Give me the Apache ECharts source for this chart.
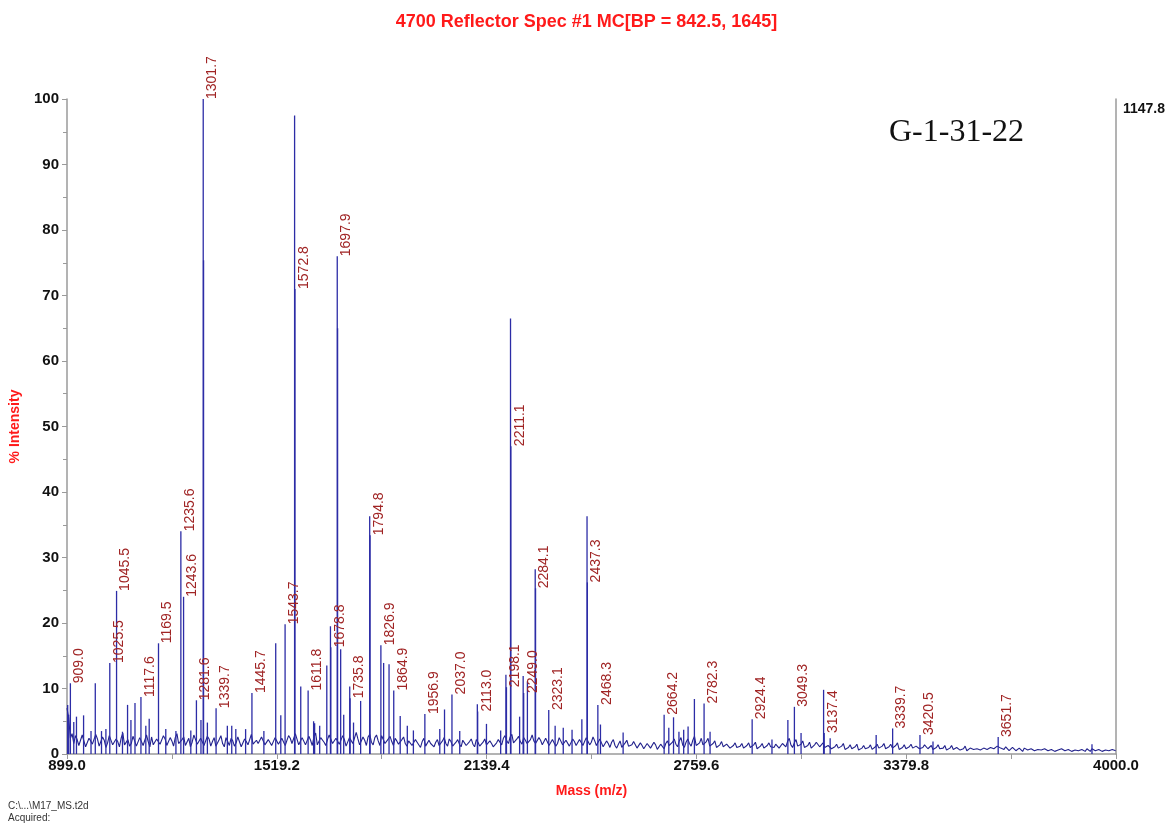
<!DOCTYPE html>
<html><head><meta charset="utf-8">
<script src="https://cdn.jsdelivr.net/npm/echarts@6/dist/echarts.min.js"></script>
<style>html,body{margin:0;padding:0;background:#fff}#c{width:1173px;height:825px}</style>
</head><body><div id="c"></div>
<script>
// ---- data ----
const peakMass = [901,904,909.0,919,927,948,970,982.6,1001,1014,1025.5,1045.5,1063,1078,1088,1100,1117.6,1132,1142,1169.5,1191,1221,1235.6,1243.6,1265,1281.6,1295,1301.7,1302.7,1314,1339.7,1373,1386,1398,1427,1445.7,1481,1516,1531,1543.7,1571.8,1572.8,1590,1611.8,1628,1631,1646,1667,1677.8,1678.8,1697.9,1698.9,1708,1717,1734.8,1735.8,1746,1767,1793.8,1794.8,1826.9,1835,1851,1864.9,1884,1905,1923,1956.9,2001,2015,2037.0,2060,2112,2113.0,2139,2181,2196.5,2198.1,2210.1,2211.1,2237,2247.5,2249.0,2260,2283.1,2284.1,2323.1,2342,2366,2392,2421,2436.3,2437.3,2468.3,2476,2543,2664.2,2678,2692,2708,2722,2735,2753.7,2782.3,2800,2924.4,2983,3030,3049.3,3069,3135.6,3137.4,3155,3291,3339.7,3420.5,3459,3651.7,3929];
const peakIntensity = [7.5,6.0,10.8,4.9,5.7,5.9,3.5,10.8,3.5,3.8,13.9,24.9,3.4,7.5,5.2,7.8,8.7,4.3,5.4,16.9,3.8,3.5,34.0,24.0,3.6,8.2,5.2,100,75.4,4.8,7.0,4.3,4.3,3.8,3.8,9.3,3.5,16.9,5.9,19.8,97.5,71.0,10.3,9.7,5.0,4.7,4.3,13.5,19.5,16.3,76.0,65.0,16.0,6.0,10.3,8.5,4.8,8.1,36.3,33.4,16.6,13.9,13.7,9.7,5.8,4.3,3.6,6.1,3.8,6.8,9.1,3.5,7.6,6.5,4.6,3.6,12.1,10.2,66.5,47.0,5.7,11.9,9.3,11.1,28.2,25.3,6.7,4.3,4.0,3.7,5.3,36.3,26.2,7.5,4.5,3.3,6.0,4.0,5.6,3.4,3.7,4.2,8.4,7.7,3.4,5.3,2.2,5.2,7.2,3.2,9.8,3.2,2.4,2.9,3.9,2.9,1.9,2.6,1.5];
const peakLabeled = [0,0,1,0,0,0,0,0,0,0,1,1,0,0,0,0,1,0,0,1,0,0,1,1,0,1,0,1,0,0,1,0,0,0,0,1,0,0,0,1,0,1,0,1,0,0,0,0,0,1,1,0,0,0,0,1,0,0,0,1,1,0,0,1,0,0,0,1,0,0,1,0,0,1,0,0,0,1,0,1,0,0,1,0,0,1,1,0,0,0,0,0,1,1,0,0,1,0,0,0,0,0,0,1,0,1,0,0,1,0,0,1,0,0,1,1,0,1,0];
const noiseStart = 899, noiseStep = 5;
const noiseValues = [
7.0,5.5,2.4,3.1,1.6,2.8,2.2,1.3,1.4,2.9,2.6,1.1,1.2,2.4,2.0,1.5,1.5,3.0,2.3,1.2,
1.3,2.6,2.1,1.0,1.7,2.8,2.5,1.4,1.2,2.3,1.9,1.1,2.4,3.2,1.4,1.6,2.2,1.2,1.6,2.7,
2.0,1.2,1.3,2.5,2.4,1.3,1.5,2.9,1.9,1.1,2.6,1.4,1.2,2.3,2.1,1.5,1.7,2.8,2.3,1.3,
1.4,2.5,2.0,1.2,2.5,3.1,1.6,1.3,2.2,2.6,1.3,1.6,2.4,1.1,1.8,2.9,2.7,1.5,1.5,2.4,
2.1,1.3,1.4,2.7,2.3,1.2,1.9,2.5,1.2,1.5,2.2,2.8,1.6,1.1,2.5,1.9,1.3,2.4,2.0,1.2,
1.7,2.6,2.4,1.1,1.2,2.3,1.9,1.4,2.2,3.0,1.5,1.2,2.1,1.6,1.3,2.6,2.3,1.4,1.6,2.2,
2.0,1.3,1.4,2.5,2.6,1.5,1.7,2.4,2.2,1.3,1.5,2.8,2.4,1.6,1.9,3.1,2.8,1.4,1.6,2.5,
2.3,1.4,1.5,2.7,2.1,1.3,2.6,3.2,1.4,1.5,2.5,2.2,1.8,1.3,2.2,2.9,2.9,1.6,1.7,2.4,
2.4,1.5,1.6,2.8,2.2,1.2,1.5,2.5,2.7,1.6,1.9,3.3,2.3,1.4,1.4,2.6,2.1,1.3,2.6,3.0,
1.8,1.4,2.5,2.9,2.0,1.3,2.8,2.2,1.6,1.5,2.3,2.7,1.9,1.3,2.4,2.0,1.5,1.2,2.2,2.6,
1.6,1.2,2.0,2.3,1.3,1.1,2.2,1.8,1.5,1.0,1.9,2.4,1.2,1.3,2.1,1.6,1.4,1.1,1.8,2.2,
1.3,1.0,2.0,2.5,1.6,1.2,2.3,1.9,1.2,1.0,1.8,2.2,1.5,1.1,2.1,1.7,1.3,1.0,1.9,2.3,
1.5,1.1,2.2,1.8,1.2,1.0,1.8,2.3,1.4,1.2,2.0,1.6,1.1,1.3,1.7,2.2,1.9,1.4,2.4,2.8,
2.0,1.6,2.6,3.0,1.7,1.4,2.3,2.7,1.9,1.5,2.5,2.1,1.6,1.3,2.2,2.9,2.0,1.6,1.7,2.5,
2.1,1.4,1.5,2.4,2.3,1.3,1.4,2.2,1.9,1.2,1.6,2.5,2.2,1.4,1.3,2.1,1.8,1.2,1.5,2.3,
1.9,1.3,1.4,2.2,2.1,1.3,1.6,2.5,2.3,1.4,1.8,2.6,2.0,1.3,1.5,2.3,1.7,1.1,1.3,2.0,
1.6,1.0,1.8,2.2,1.3,0.9,1.5,2.0,1.0,0.8,1.7,2.1,1.2,0.9,1.4,1.9,1.4,0.9,1.1,1.7,
1.3,0.8,0.9,1.6,1.5,0.9,1.1,1.8,1.4,0.7,0.8,1.5,1.2,0.8,1.6,2.0,1.3,1.0,1.8,2.3,
1.5,1.1,2.0,2.5,1.4,1.0,1.8,2.3,1.6,1.2,2.1,2.7,1.3,1.0,1.7,2.4,1.4,1.1,1.9,2.4,
1.2,0.9,1.6,2.0,1.0,0.8,1.4,1.9,1.1,0.8,1.5,1.8,0.9,0.7,1.3,1.7,1.0,0.8,1.2,1.6,
0.9,0.7,1.3,1.7,1.0,0.8,1.4,1.8,0.8,0.6,1.2,1.6,0.9,0.7,1.3,1.7,1.1,0.8,1.0,1.5,
1.3,0.9,1.0,1.6,1.6,1.1,1.9,2.4,1.4,1.0,1.7,2.2,1.2,0.9,1.5,2.0,1.0,0.7,1.3,1.8,
0.9,0.7,1.4,1.8,1.6,1.1,1.2,1.7,1.0,0.7,1.3,1.6,0.8,0.6,1.1,1.5,0.9,0.7,1.2,1.6,
0.7,0.5,1.0,1.4,0.8,0.6,1.1,1.5,0.6,0.5,0.9,1.3,0.8,0.6,1.0,1.4,0.7,0.5,1.1,1.5,
0.9,0.6,1.2,1.6,0.8,0.6,1.1,1.5,0.9,0.7,1.3,1.7,0.7,0.5,1.0,1.4,0.8,0.6,1.1,1.5,
0.9,0.6,1.2,1.5,0.8,0.6,1.0,1.4,1.3,0.8,0.9,1.3,0.7,0.5,1.0,1.4,0.8,0.6,0.9,1.3,
0.6,0.4,0.9,1.3,0.7,0.5,1.0,1.3,0.6,0.4,0.8,1.2,0.5,0.4,0.9,1.2,0.7,0.5,0.8,1.1,
0.6,0.4,0.9,1.2,0.7,0.5,1.0,1.3,0.8,0.6,1.2,1.5,0.9,0.6,0.7,1.1,0.8,0.5,0.6,1.0,
0.8,0.5,0.5,0.9,0.7,0.4,0.9,1.2,0.6,0.4,0.8,1.1,0.5,0.4,0.7,1.0,0.6,0.4,0.8,1.1,
0.5,0.3,0.7,1.0,0.4,0.3,0.6,0.9,0.8,0.5,0.5,0.8,0.7,0.4,0.4,0.7,0.6,0.4,0.5,0.8,
0.7,0.4,0.4,0.8,0.6,0.4,0.8,1.1,0.5,0.3,0.7,1.0,0.4,0.3,0.6,0.9,0.5,0.3,0.7,1.0,
0.5];
const xTickValues = [899.0, 1519.2, 2139.4, 2759.6, 3379.8, 4000.0];
const yTickValues = [0,10,20,30,40,50,60,70,80,90,100];
const rightAxisMax = 1147.8;

// ---- chart ----
const chart = echarts.init(document.getElementById('c'), null, {renderer: 'canvas'});
const noiseData = noiseValues.map((v, i) => [noiseStart + i * noiseStep, v]);
const peakData = peakMass.map((m, i) => ({
  value: [m, peakIntensity[i]],
  label: { show: !!peakLabeled[i] }
}));
const font = 'Liberation Sans';
const axisGray = '#9a9a9a';

chart.setOption({
  animation: false,
  backgroundColor: '#fff',
  title: {
    text: '4700 Reflector Spec #1 MC[BP = 842.5, 1645]',
    left: 'center', top: 8,
    textStyle: { color: '#ff1a1a', fontSize: 18, fontWeight: 'bold', fontFamily: font }
  },
  grid: { left: 66, right: 57, top: 99, bottom: 71 },
  xAxis: {
    type: 'value', min: xTickValues[0], max: xTickValues[xTickValues.length - 1], interval: 620.2,
    name: 'Mass (m/z)', nameLocation: 'middle', nameGap: 30,
    nameTextStyle: { color: '#ff1a1a', fontWeight: 'bold', fontSize: 14, fontFamily: font },
    axisLine: { lineStyle: { color: axisGray, width: 1.5 } },
    axisTick: { length: 5, lineStyle: { color: axisGray } },
    minorTick: { show: true, splitNumber: 2, length: 5, lineStyle: { color: axisGray } },
    splitLine: { show: false },
    axisLabel: { formatter: v => v.toFixed(1), color: '#111', fontWeight: 'bold', fontSize: 15, fontFamily: font, margin: 4 }
  },
  yAxis: [{
    type: 'value', min: yTickValues[0], max: yTickValues[yTickValues.length - 1], interval: 10,
    name: '% Intensity', nameLocation: 'middle', nameGap: 45,
    nameTextStyle: { color: '#ff1a1a', fontWeight: 'bold', fontSize: 14, fontFamily: font },
    axisLine: { show: true, lineStyle: { color: axisGray, width: 1.5 } },
    axisTick: { show: true, length: 5, lineStyle: { color: axisGray } },
    minorTick: { show: true, splitNumber: 2, length: 4, lineStyle: { color: axisGray } },
    splitLine: { show: false },
    axisLabel: { color: '#111', fontWeight: 'bold', fontSize: 15, fontFamily: font, margin: 8 }
  }, {
    type: 'value', position: 'right', min: 0, max: rightAxisMax, interval: rightAxisMax,
    axisLine: { show: true, lineStyle: { color: axisGray, width: 1.5 } },
    axisTick: { show: false },
    splitLine: { show: false },
    axisLabel: { formatter: v => v > 0 ? v.toFixed(1) : '', color: '#111', fontWeight: 'bold', fontSize: 14, fontFamily: font, margin: 7, verticalAlign: 'top', padding: [3, 0, 0, 0] }
  }],
  series: [{
    type: 'line', data: noiseData, symbol: 'none', silent: true, z: 2,
    lineStyle: { width: 1.1, color: '#22228c' }
  }, {
    type: 'bar', data: peakData, barWidth: 1.3, z: 3, silent: true,
    itemStyle: { color: '#2c2ca6' },
    label: {
      show: false, position: 'top', rotate: 90, align: 'left', verticalAlign: 'middle',
      distance: 0, offset: [0, 9],
      formatter: p => p.value[0].toFixed(1),
      color: '#a02424', fontSize: 14, fontFamily: font
    }
  }],
  graphic: [{
    type: 'text', left: 889, top: 117,
    style: { text: 'G-1-31-22', font: '32px "Liberation Serif"', fill: '#111' }
  }, {
    type: 'text', left: 8, top: 800,
    style: { text: 'C:\\...\\M17_MS.t2d\nAcquired:', font: '10px "Liberation Sans"', fill: '#333', lineHeight: 12 }
  }]
});
</script></body></html>
